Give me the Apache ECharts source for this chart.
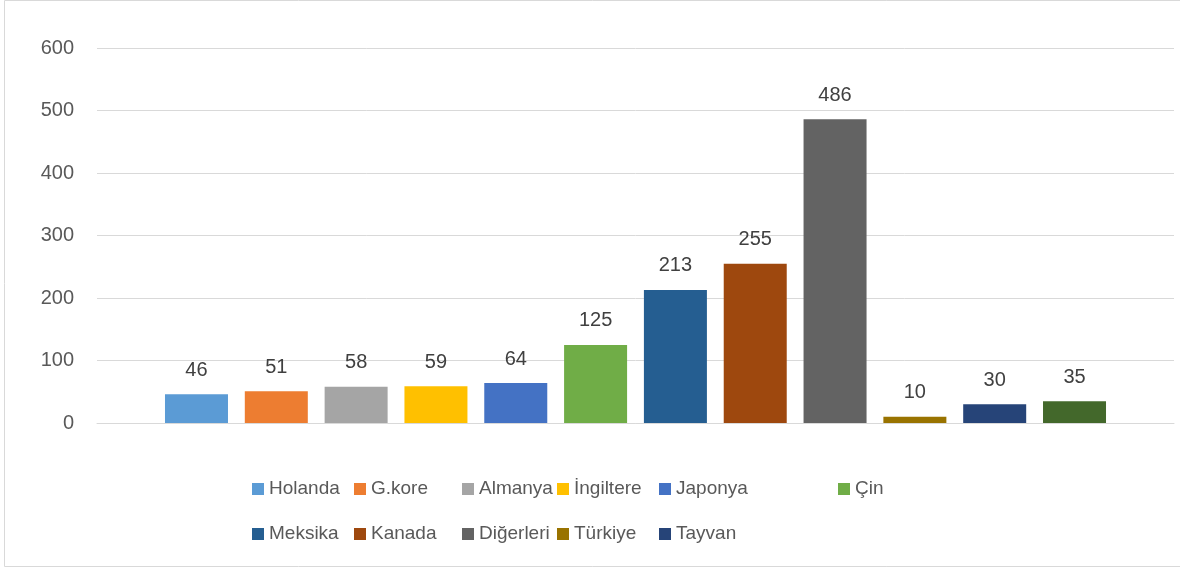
<!DOCTYPE html>
<html>
<head>
<meta charset="utf-8">
<script src="https://cdn.jsdelivr.net/npm/echarts@6/dist/echarts.min.js"></script>
<style>
html,body{margin:0;padding:0;background:#fff;}
#main{width:1180px;height:568px;}
</style>
</head>
<body>
<div id="main"></div>
<script>
// ---- data ----
const categories = [''];
const seriesNames = ['Holanda', 'G.kore', 'Almanya', 'İngiltere', 'Japonya', 'Çin',
  'Meksika', 'Kanada', 'Diğerleri', 'Türkiye', 'Tayvan', 'Diğer'];
const seriesValues = [46, 51, 58, 59, 64, 125, 213, 255, 486, 10, 30, 35];
const yMin = 0, yMax = 600, yInterval = 100;
const legendColumns = [
  ['Holanda', 'Meksika'],
  ['G.kore', 'Kanada'],
  ['Almanya', 'Diğerleri'],
  ['İngiltere', 'Türkiye'],
  ['Japonya', 'Tayvan'],
  ['Çin']
];

// ---- style ----
const palette = ['#5B9BD5', '#ED7D31', '#A5A5A5', '#FFC000', '#4472C4', '#70AD47',
  '#255E91', '#9E480E', '#636363', '#997300', '#264478', '#43682B'];
const legendLefts = [252, 354, 462, 557, 659, 838];
const FONT = 'Liberation Sans, Arial, sans-serif';

const chart = echarts.init(document.getElementById('main'), null, {renderer: 'canvas'});

const series = seriesNames.map((name, i) => ({
  name: name,
  type: 'bar',
  data: [seriesValues[i]],
  barWidth: 63,
  barGap: '26.7%',
  itemStyle: {color: palette[i]},
  label: {
    show: true,
    position: 'top',
    distance: 14,
    color: '#404040',
    fontSize: 20,
    fontFamily: FONT
  },
  emphasis: {disabled: true}
}));

const legends = legendColumns.map((col, i) => ({
  orient: 'vertical',
  left: legendLefts[i],
  top: 479,
  padding: 0,
  itemWidth: 12,
  itemHeight: 12,
  itemGap: 25,
  icon: 'rect',
  selectedMode: false,
  textStyle: {fontSize: 19, lineHeight: 20, color: '#595959', fontFamily: FONT},
  data: col
}));

chart.setOption({
  animation: false,
  color: palette,
  textStyle: {fontFamily: FONT},
  grid: {left: 97, right: 6, top: 48, bottom: 145, containLabel: false},
  legend: legends,
  graphic: [{
    type: 'rect',
    shape: {x: 4.5, y: 0.5, width: 1180, height: 566},
    style: {fill: 'none', stroke: '#d9d9d9', lineWidth: 1},
    silent: true,
    z: -1
  }],
  xAxis: {
    type: 'category',
    data: categories,
    axisLine: {show: true, lineStyle: {color: '#d9d9d9', width: 1}},
    axisTick: {show: false},
    axisLabel: {show: false}
  },
  yAxis: {
    type: 'value',
    min: yMin,
    max: yMax,
    interval: yInterval,
    axisLine: {show: false},
    axisTick: {show: false},
    axisLabel: {color: '#595959', fontSize: 20, margin: 23, fontFamily: FONT},
    splitLine: {lineStyle: {color: '#d9d9d9', width: 1}}
  },
  series: series
});
</script>
</body>
</html>
